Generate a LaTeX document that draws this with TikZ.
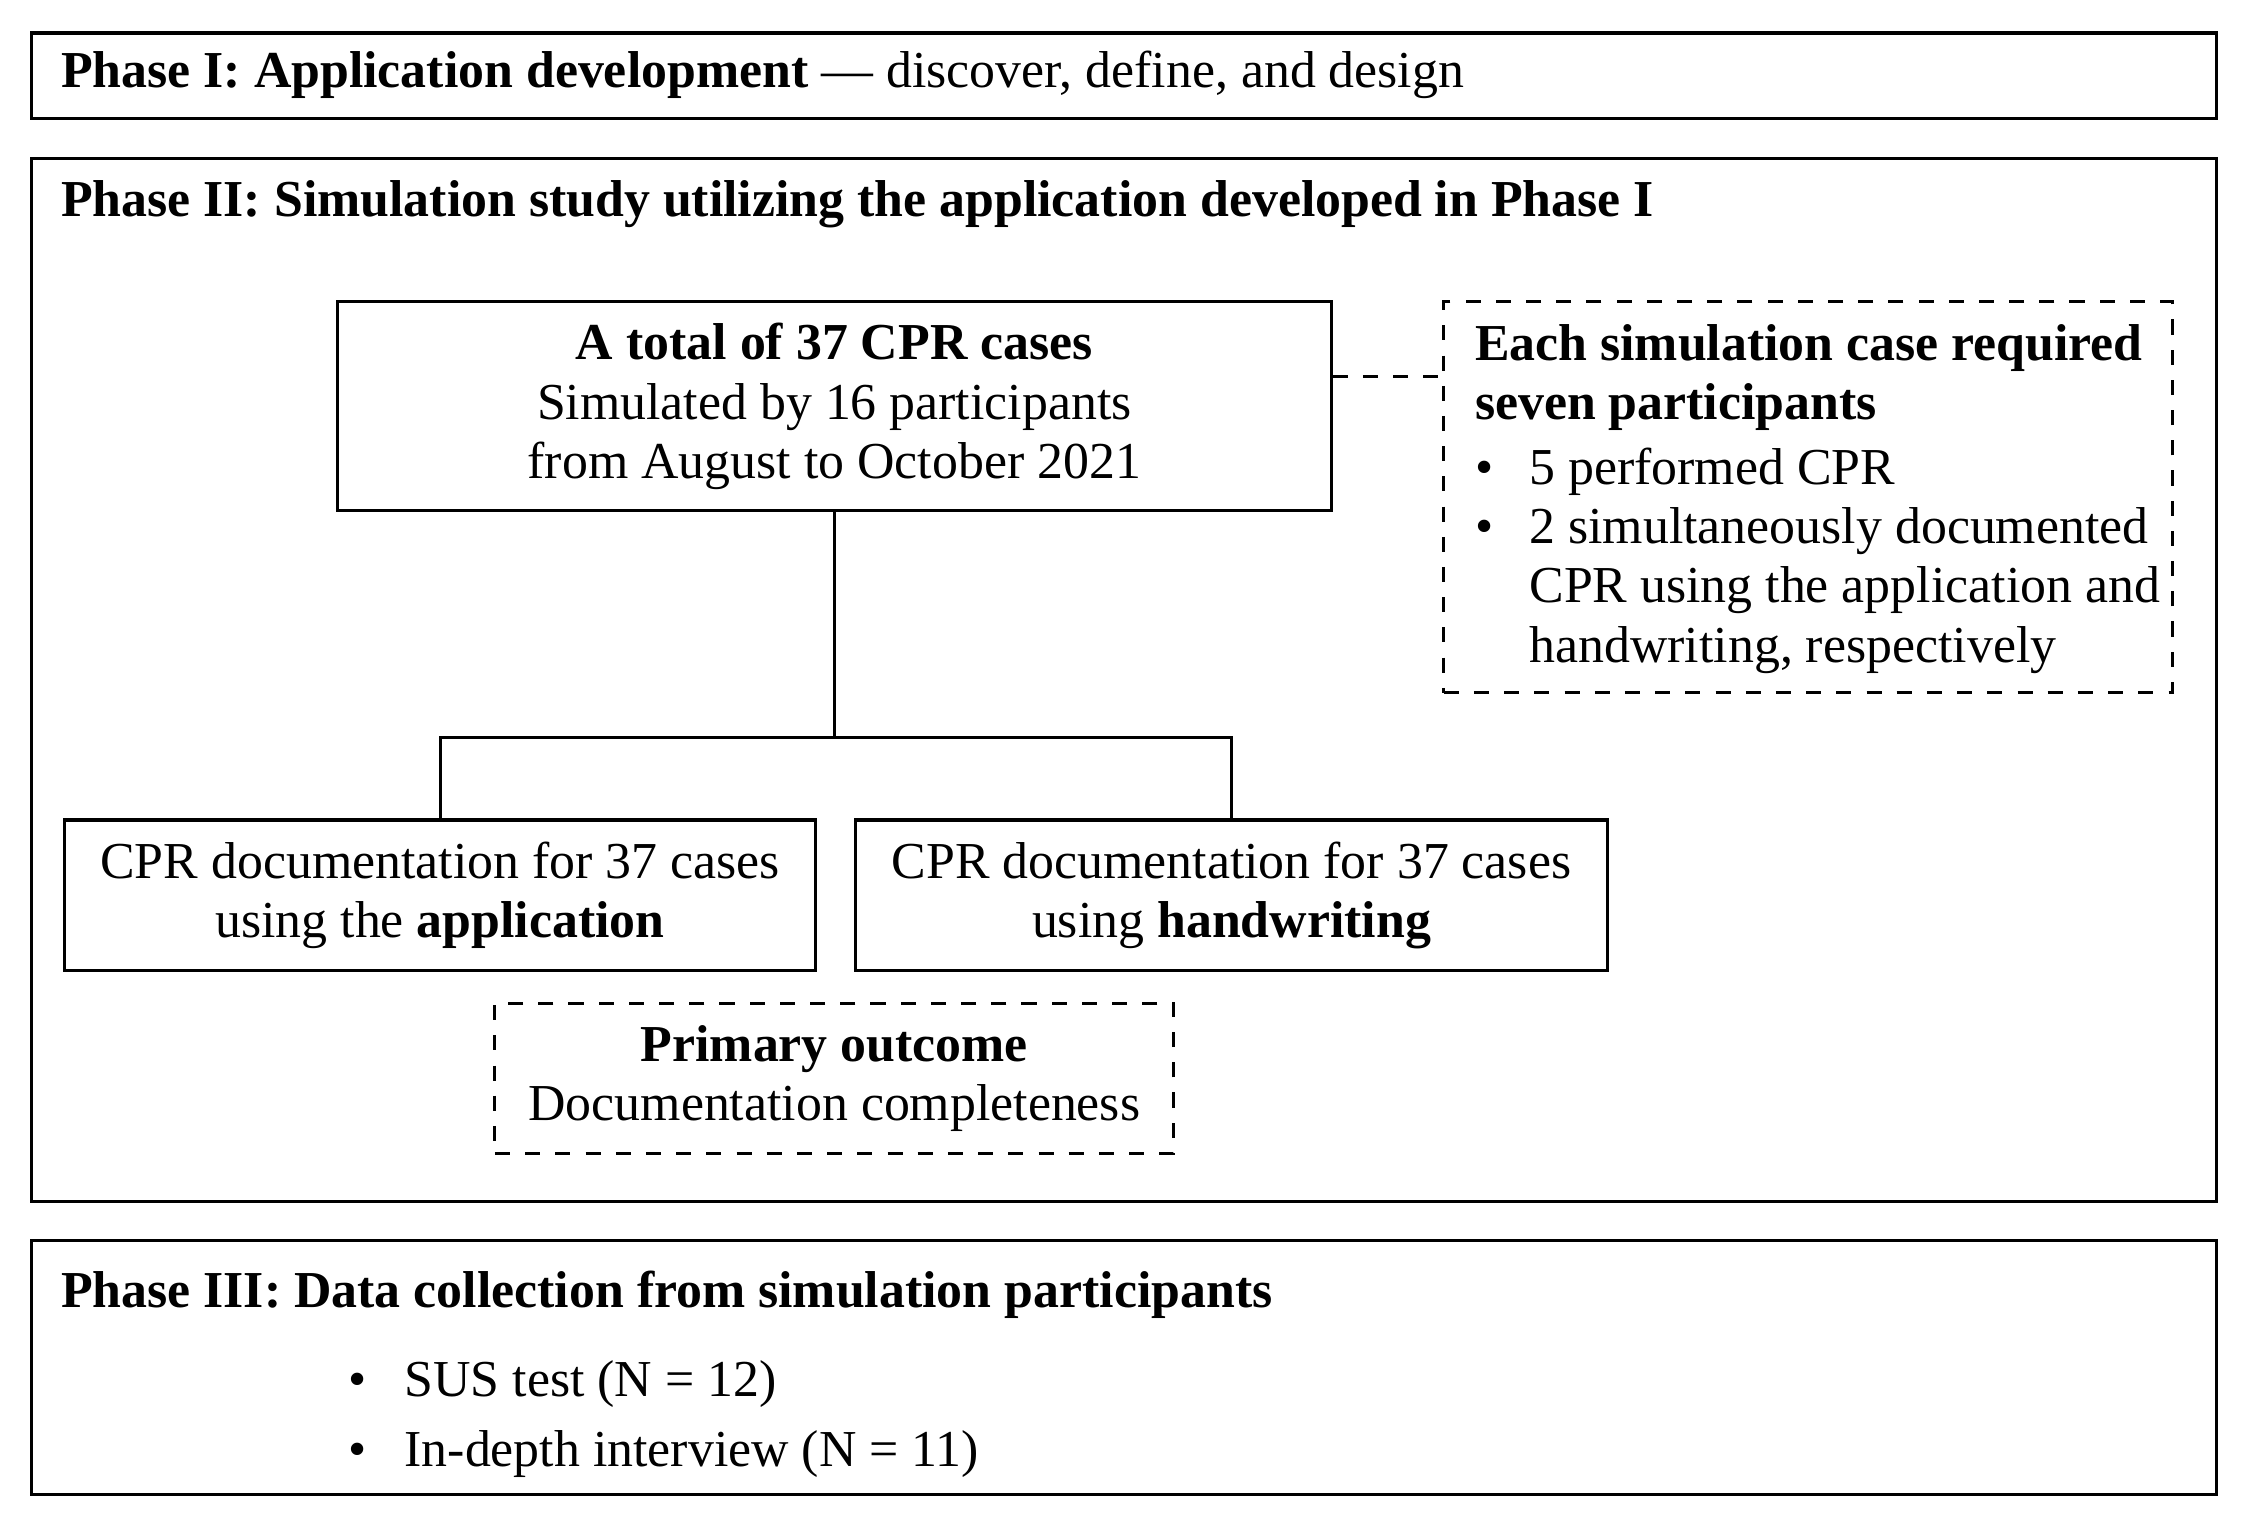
\documentclass[tikz,border=0pt]{standalone}
\usepackage{fontspec}
\setmainfont{Liberation Serif}
\usetikzlibrary{positioning}
\tikzset{
    phase/.style={draw=black,line width=0.6pt,minimum width=15.26cm,anchor=north west},
    case/.style={draw=black,line width=0.6pt,align=center,inner sep=0pt},
    note/.style={draw=black,dashed,line width=0.6pt,inner sep=0pt},
    title/.style={anchor=west,inner sep=0pt,font=\bfseries},
}
\begin{document}
\fontsize{10.3}{11.8}\selectfont
\begin{tikzpicture}[x=0.01cm,y=-0.01cm]
    \useasboundingbox (0,0) rectangle (1568,1066);
    % phase frames
    \node[phase,minimum height=0.6cm] at (21,22) (p1) {};
    \node[phase,minimum height=7.28cm] at (21,110) (p2) {};
    \node[phase,minimum height=1.77cm] at (21,866) (p3) {};

    \node[title] at (42,52) (t1) {Phase I: Application development \textmd{--- discover, define, and design}};
    \node[title] at (42,143) (t2) {Phase II: Simulation study utilizing the application developed in Phase I};
    \node[title] at (42,905) (t3) {Phase III: Data collection from simulation participants};

    % phase II
    \node[case,minimum width=6.94cm,minimum height=1.46cm] at (583,284) (total) {\textbf{A total of 37 CPR cases}\\Simulated by 16 participants\\from August to October 2021};
    \node[note,minimum width=5.09cm,minimum height=2.73cm] at (1263.5,347.5) (each) {};
    \node[anchor=north west,inner sep=0pt,align=left] at (1030,226) (eachtxt) {\textbf{Each simulation case required}\\\textbf{seven participants}\\[1pt]
        \makebox[3.8mm][l]{\textbullet}5 performed CPR\\
        \makebox[3.8mm][l]{\textbullet}2 simultaneously documented\\
        \hspace*{3.8mm}CPR using the application and\\
        \hspace*{3.8mm}handwriting, respectively};
    \node[case,minimum width=5.25cm,minimum height=1.05cm] at (307.5,625.5) (app) {CPR documentation for 37 cases\\using the \textbf{application}};
    \node[case,minimum width=5.25cm,minimum height=1.05cm] at (860.5,625.5) (hand) {CPR documentation for 37 cases\\using \textbf{handwriting}};
    \node[note,minimum width=4.74cm,minimum height=1.05cm,align=center] at (583,753.5) (outcome) {\textbf{Primary outcome}\\Documentation completeness};

    \coordinate (split) at (583,515);
    \draw[dashed,line width=0.6pt] (total.east |- 0,263) -- (each.west |- 0,263);
    \draw[line width=0.6pt] (total.south) -- (split);
    \draw[line width=0.6pt] (split) -| (app.north);
    \draw[line width=0.6pt] (split) -| (hand.north);

    % phase III
    \node[anchor=north west,inner sep=0pt,align=left] at (243,950) (sus) {\makebox[3.9mm][l]{\textbullet}SUS test (N = 12)\\[2pt]\makebox[3.9mm][l]{\textbullet}In-depth interview (N = 11)};
\end{tikzpicture}
\end{document}
